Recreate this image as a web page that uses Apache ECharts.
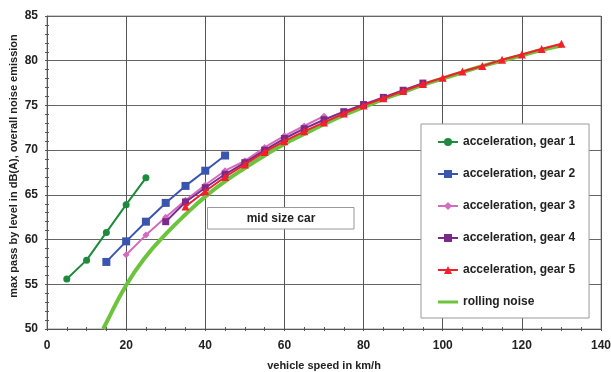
<!DOCTYPE html>
<html>
<head>
<meta charset="utf-8">
<script src="https://cdn.jsdelivr.net/npm/echarts@6/dist/echarts.min.js"></script>
<style>html,body{margin:0;padding:0;background:#fff;}#c{width:611px;height:372px;}</style>
</head>
<body>
<div id="c"></div>
<script>
// ---- data ----
const gear1Speed = [5, 10, 15, 20, 25];
const gear1Level = [55.6, 57.7, 60.8, 63.9, 66.9];

const gear2Speed = [15, 20, 25, 30, 35, 40, 45];
const gear2Level = [57.5, 59.8, 62.0, 64.1, 66.0, 67.7, 69.4];

const gear3Speed = [20, 25, 30, 35, 40, 45, 50, 55, 60, 65, 70];
const gear3Level = [58.3, 60.5, 62.5, 64.4, 66.1, 67.7, 68.8, 70.3, 71.6, 72.7, 73.8];

const gear4Speed = [30, 35, 40, 45, 50, 55, 60, 65, 70, 75, 80, 85, 90, 95];
const gear4Level = [62.0, 64.2, 65.8, 67.3, 68.6, 70.0, 71.3, 72.4, 73.4, 74.3, 75.1, 75.9, 76.7, 77.5];

const gear5Speed = [35, 40, 45, 50, 55, 60, 65, 70, 75, 80, 85, 90, 95, 100, 105, 110, 115, 120, 125, 130];
const gear5Level = [63.7, 65.4, 67.0, 68.4, 69.8, 71.0, 72.1, 73.1, 74.1, 75.0, 75.8, 76.6, 77.4, 78.1, 78.8, 79.4, 80.1, 80.7, 81.3, 81.9];

const rollSpeed = [14.2, 15, 20, 25, 30, 35, 40, 45, 50, 55, 60, 65, 70, 75, 80, 85, 90, 95, 100, 105, 110, 115, 120, 125, 130];
const rollLevel = [50.0, 50.7, 54.9, 58.1, 60.6, 62.8, 64.8, 66.5, 68.0, 69.4, 70.7, 71.8, 72.9, 73.9, 74.8, 75.7, 76.5, 77.3, 78.0, 78.7, 79.4, 80.0, 80.6, 81.2, 81.7];

const seriesNames = ['acceleration, gear 1', 'acceleration, gear 2', 'acceleration, gear 3', 'acceleration, gear 4', 'acceleration, gear 5', 'rolling noise'];
const xTickMin = 0, xTickMax = 140, xTickStep = 20;
const yTickMin = 50, yTickMax = 85, yTickStep = 5;

function pairs(xs, ys) { return xs.map((x, i) => [x, ys[i]]); }

const font = '"Liberation Sans", Arial, sans-serif';
const txt = '#222';

const chart = echarts.init(document.getElementById('c'));

function lineSeries(name, xs, ys, color, symbol, size, z) {
  return {
    name: name, type: 'line', data: pairs(xs, ys),
    symbol: symbol, symbolSize: size, showSymbol: true,
    lineStyle: { color: color, width: 2 },
    itemStyle: { color: color },
    z: z, animation: false
  };
}

const legendData = seriesNames.map((n, i) => i === 5
  ? { name: n, icon: 'path://M0,3.5 L20,3.5 L20,6.5 L0,6.5 Z' }
  : { name: n });

chart.setOption({
  animation: false,
  grid: { left: 47, right: 10, top: 16, bottom: 43, containLabel: false, outerBoundsMode: 'none',
    show: true, borderColor: '#999', borderWidth: 1 },
  xAxis: [{
    type: 'value', min: xTickMin, max: xTickMax, interval: xTickStep,
    name: 'vehicle speed in km/h', nameLocation: 'middle', nameGap: 31,
    nameTextStyle: { fontFamily: font, fontWeight: 'bold', fontSize: 11, color: txt },
    axisLine: { show: true, lineStyle: { color: '#555', width: 1 } },
    axisTick: { show: true, length: 2, lineStyle: { color: '#555' } },
    minorTick: { show: true, splitNumber: 4, length: 2, lineStyle: { color: '#555' } },
    axisLabel: { margin: 11, fontFamily: font, fontWeight: 'bold', fontSize: 12, color: txt },
    splitLine: { show: true, lineStyle: { color: '#555', width: 1 } }
  }, {
    type: 'value', min: xTickMin, max: xTickMax, interval: xTickStep, position: 'bottom',
    axisLine: { show: false },
    axisTick: { show: true, inside: true, length: 2, lineStyle: { color: '#555' } },
    minorTick: { show: true, splitNumber: 4, length: 2, lineStyle: { color: '#555' } },
    axisLabel: { show: false }, splitLine: { show: false }
  }],
  yAxis: [{
    type: 'value', min: yTickMin, max: yTickMax, interval: yTickStep,
    axisLine: { show: true, lineStyle: { color: '#555', width: 1 } },
    axisTick: { show: true, length: 2, lineStyle: { color: '#555' } },
    minorTick: { show: true, splitNumber: 5, length: 2, lineStyle: { color: '#555' } },
    axisLabel: { margin: 9, fontFamily: font, fontWeight: 'bold', fontSize: 12, color: txt },
    splitLine: { show: true, lineStyle: { color: '#666', width: 1 } }
  }, {
    type: 'value', min: yTickMin, max: yTickMax, interval: yTickStep, position: 'left',
    axisLine: { show: false },
    axisTick: { show: true, inside: true, length: 2, lineStyle: { color: '#555' } },
    minorTick: { show: true, splitNumber: 5, length: 2, lineStyle: { color: '#555' } },
    axisLabel: { show: false }, splitLine: { show: false }
  }],
  legend: {
    orient: 'vertical', left: 421, top: 124,
    padding: [12, 14, 10, 16],
    itemWidth: 20, itemHeight: 10, itemGap: 20,
    backgroundColor: '#fff', borderColor: '#999', borderWidth: 1,
    textStyle: { fontFamily: font, fontWeight: 'bold', fontSize: 12, color: txt },
    data: legendData
  },
  graphic: [
    { type: 'text', x: 14, y: 166, rotation: Math.PI / 2,
      style: { text: 'max pass by level in dB(A), overall noise emission', x: 0, y: 0,
        textAlign: 'center', textVerticalAlign: 'middle',
        font: 'bold 11px ' + font, fill: txt } },
    { type: 'rect', shape: { x: 207.5, y: 207.5, width: 146.5, height: 21.5 },
      style: { fill: '#fff', stroke: '#999', lineWidth: 1 }, z: 10 },
    { type: 'text', x: 281, y: 218.5, z: 11,
      style: { text: 'mid size car', textAlign: 'center', textVerticalAlign: 'middle',
        font: 'bold 12px ' + font, fill: txt } }
  ],
  series: [
    {
      name: seriesNames[5], type: 'line', data: pairs(rollSpeed, rollLevel),
      symbol: 'none', smooth: true, lineStyle: { color: '#6cc43c', width: 4 },
      itemStyle: { color: '#6cc43c' }, z: 2
    },
    lineSeries(seriesNames[0], gear1Speed, gear1Level, '#1e8a3c', 'circle', 7, 3),
    lineSeries(seriesNames[1], gear2Speed, gear2Level, '#3a55b0', 'rect', 8, 3),
    lineSeries(seriesNames[2], gear3Speed, gear3Level, '#d36bbf', 'diamond', 7, 4),
    lineSeries(seriesNames[3], gear4Speed, gear4Level, '#7b2a8a', 'rect', 7, 5),
    lineSeries(seriesNames[4], gear5Speed, gear5Level, '#f2202a', 'triangle', 8, 6)
  ]
});
</script>
</body>
</html>
